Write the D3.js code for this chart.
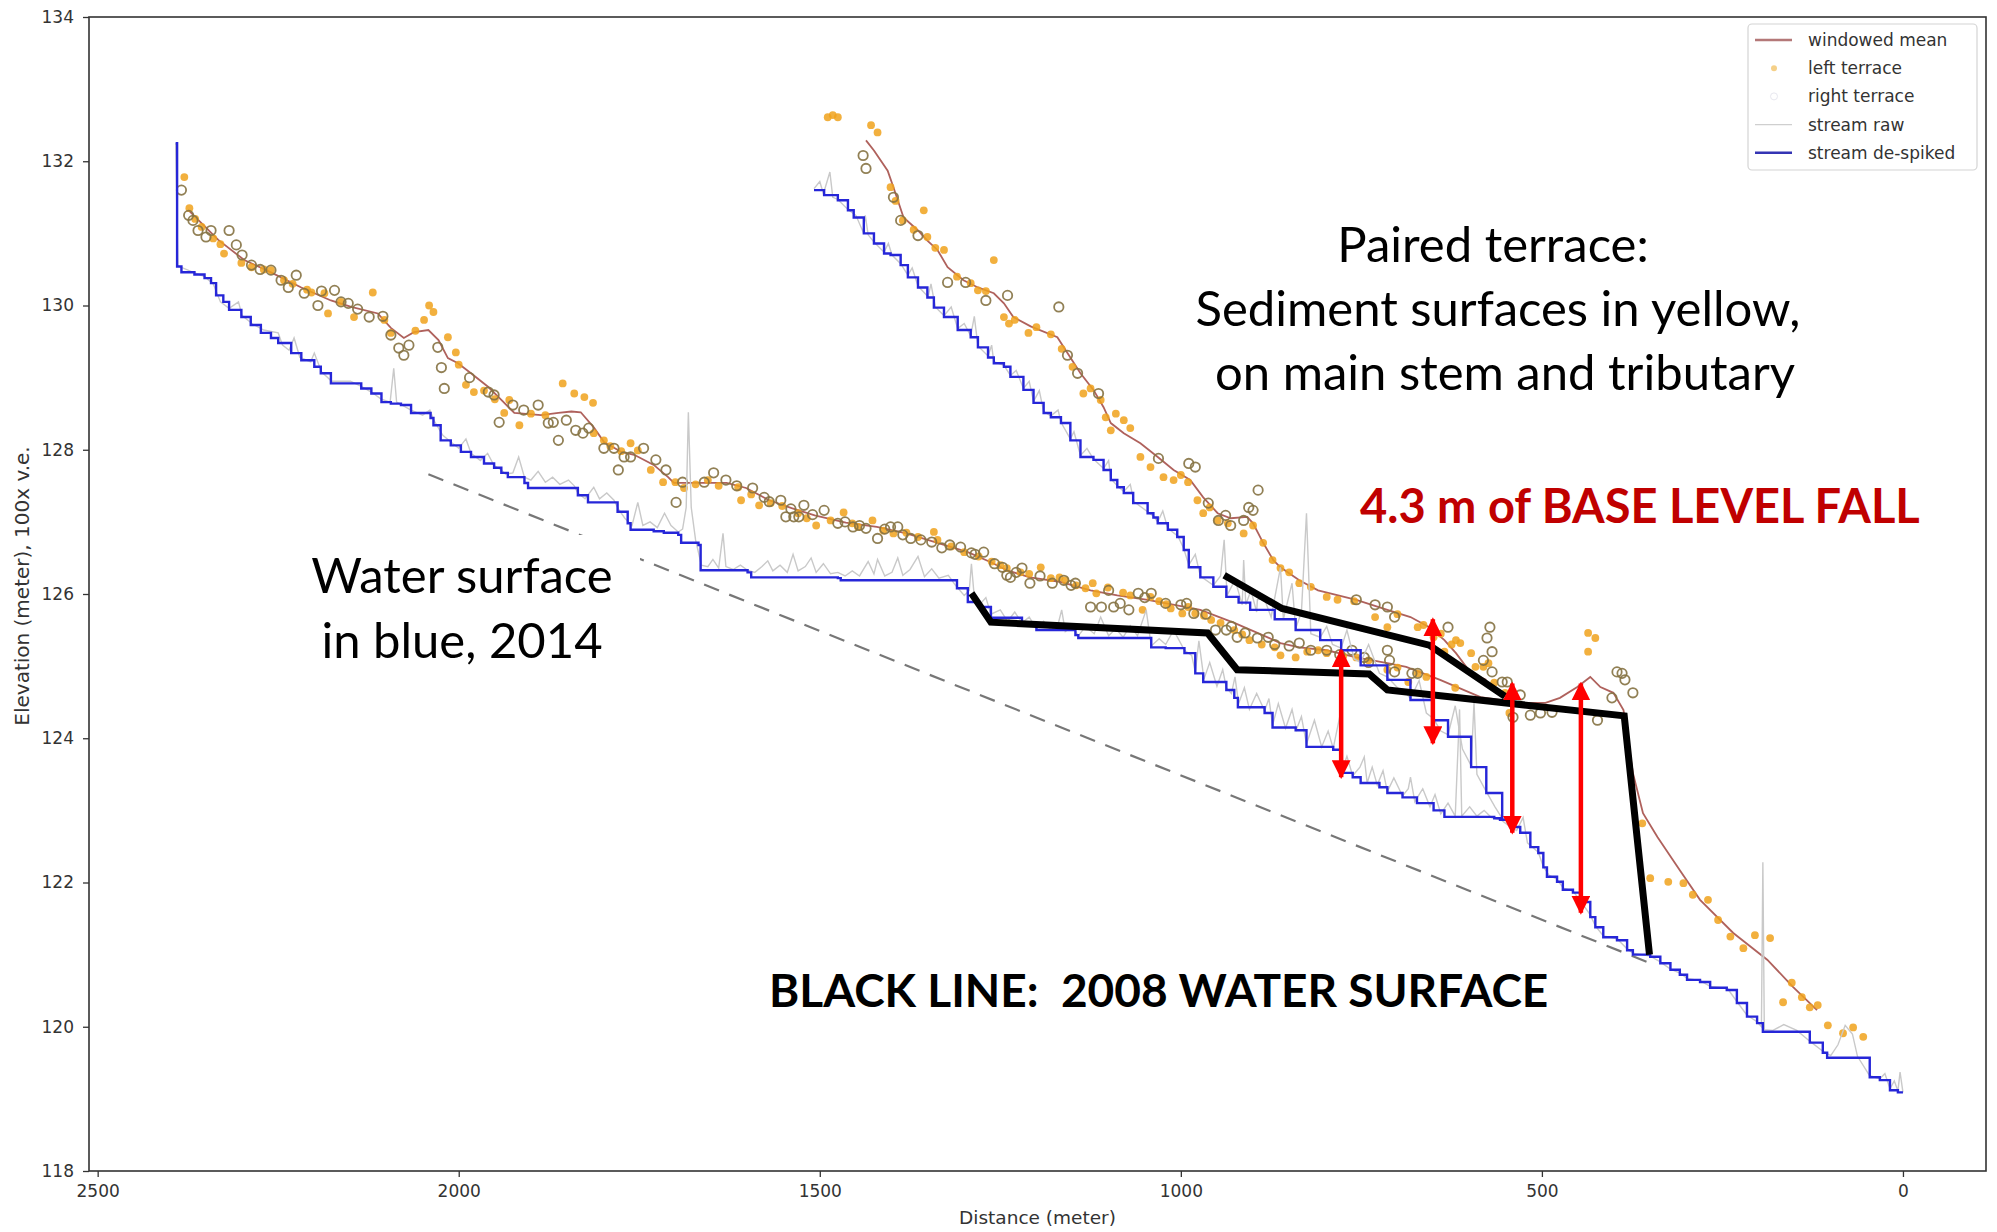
<!DOCTYPE html>
<html>
<head>
<meta charset="utf-8">
<script src="https://cdn.jsdelivr.net/npm/d3@7"></script>
<style>
  body { margin: 0; background: #fff; }
  svg { display: block; }
  .tick text { font-family: "DejaVu Sans", sans-serif; font-size: 17px; fill: #333; }
  .axis-label { font-family: "DejaVu Sans", sans-serif; fill: #333; }
  .legend text { font-family: "DejaVu Sans", sans-serif; font-size: 17px; fill: #333; }
  .note { font-family: Lato, "Open Sans", sans-serif; white-space: pre; }
</style>
</head>
<body>
<script>
// ---- profile data: [distance (m), elevation (m)] ----
var streamMain = [[2392,132.25],[2390,130.54],[2384,130.46],[2366,130.43],[2352,130.38],[2343,130.31],[2336,130.14],[2326,130.05],[2318,129.94],[2301,129.84],[2288,129.73],[2274,129.62],[2260,129.55],[2250,129.48],[2232,129.34],[2218,129.24],[2200,129.15],[2191,129.06],[2177,128.92],[2149,128.92],[2135,128.85],[2121,128.78],[2107,128.66],[2094,128.64],[2080,128.62],[2066,128.51],[2039,128.44],[2035,128.34],[2025,128.13],[2011,128.06],[1997,127.97],[1983,127.90],[1965,127.81],[1951,127.75],[1941,127.68],[1932,127.62],[1923,127.62],[1909,127.54],[1904,127.47],[1840,127.47],[1835,127.37],[1821,127.27],[1789,127.27],[1780,127.14],[1766,126.98],[1762,126.89],[1730,126.87],[1716,126.85],[1696,126.82],[1692,126.71],[1668,126.68],[1665,126.33],[1600,126.30],[1595,126.23],[1475,126.22],[1471,126.19],[1321,126.19],[1310,126.08],[1295,125.89],[1279,125.82],[1263,125.67],[1220,125.57],[1200,125.50],[1146,125.43],[1142,125.39],[1046,125.39],[1041,125.26],[1021,125.25],[995,125.18],[980,124.90],[969,124.78],[937,124.67],[926,124.56],[921,124.43],[884,124.35],[873,124.15],[841,124.11],[826,123.88],[789,123.84],[778,123.52],[762,123.46],[751,123.38],[725,123.32],[714,123.24],[693,123.18],[673,123.10],[650,123.00],[635,122.91],[566,122.89],[558,122.87],[544,122.77],[530,122.69],[516,122.49],[505,122.41],[498,122.21],[493,122.08],[479,122.01],[471,121.90],[457,121.86],[447,121.73],[433,121.52],[426,121.38],[415,121.24],[396,121.20],[382,121.06],[374,121.00],[350,120.97],[336,120.88],[322,120.79],[309,120.72],[299,120.65],[281,120.62],[267,120.54],[244,120.51],[230,120.33],[216,120.14],[202,120.05],[194,119.93],[147,119.93],[129,119.78],[111,119.64],[105,119.57],[64,119.57],[46,119.30],[32,119.26],[18,119.12],[7,119.09],[0,119.09]];

var streamTrib = [[1508,131.60],[1494,131.53],[1475,131.46],[1461,131.32],[1453,131.22],[1439,131.00],[1425,130.86],[1411,130.72],[1402,130.70],[1388,130.56],[1378,130.39],[1364,130.25],[1351,130.11],[1342,129.97],[1328,129.84],[1309,129.66],[1291,129.56],[1281,129.42],[1267,129.28],[1259,129.20],[1245,129.15],[1236,129.01],[1218,128.83],[1204,128.65],[1190,128.51],[1180,128.45],[1166,128.37],[1153,128.13],[1139,127.90],[1121,127.86],[1107,127.72],[1097,127.58],[1088,127.48],[1079,127.40],[1066,127.26],[1046,127.12],[1038,127.06],[1032,126.98],[1018,126.89],[1005,126.79],[996,126.61],[989,126.37],[973,126.23],[955,126.10],[937,125.96],[920,125.88],[904,125.78],[870,125.65],[841,125.50],[807,125.36],[778,125.22],[751,125.01],[714,124.81],[682,124.53],[650,124.25],[630,124.02],[598,123.60],[577,123.24],[555,122.87]];

var rawMain = [[2392,132.25],[2389,130.55],[2370,130.47],[2352,130.40],[2340,130.30],[2330,130.05],[2318,129.96],[2305,130.05],[2300,129.86],[2285,129.74],[2270,129.66],[2250,129.62],[2244,129.45],[2235,129.38],[2228,129.55],[2220,129.28],[2205,129.22],[2200,129.34],[2190,129.08],[2176,128.95],[2150,128.95],[2135,128.88],[2121,128.80],[2107,128.70],[2095,128.66],[2090,129.13],[2086,128.66],[2066,128.55],[2050,128.48],[2040,128.55],[2034,128.40],[2022,128.20],[2010,128.10],[2000,128.02],[1990,128.15],[1983,127.95],[1970,127.85],[1960,127.95],[1951,127.78],[1941,127.72],[1935,127.66],[1925,127.68],[1917,127.90],[1909,127.62],[1900,127.58],[1890,127.70],[1880,127.55],[1870,127.62],[1860,127.52],[1848,127.58],[1840,127.50],[1835,127.40],[1825,127.32],[1813,127.48],[1805,127.32],[1795,127.40],[1785,127.30],[1779,127.18],[1770,127.05],[1760,126.95],[1752,127.27],[1745,126.95],[1735,127.00],[1725,126.92],[1715,127.12],[1706,126.95],[1696,126.86],[1690,126.90],[1685,127.20],[1682,128.52],[1678,127.20],[1672,126.75],[1664,126.40],[1655,126.38],[1648,126.48],[1640,126.36],[1634,126.84],[1630,126.38],[1620,126.34],[1610,126.40],[1600,126.33],[1590,126.30],[1580,126.38],[1572,126.46],[1565,126.32],[1555,126.40],[1545,126.30],[1537,126.55],[1530,126.32],[1520,126.38],[1512,126.50],[1505,126.30],[1495,126.42],[1485,126.28],[1475,126.30],[1465,126.25],[1455,126.32],[1445,126.25],[1433,126.45],[1425,126.28],[1420,126.48],[1410,126.25],[1400,126.30],[1392,126.50],[1385,126.26],[1375,126.34],[1364,126.52],[1355,126.24],[1345,126.35],[1335,126.22],[1322,126.26],[1312,126.12],[1300,125.98],[1293,126.05],[1290,126.42],[1286,125.95],[1278,125.86],[1270,125.95],[1263,125.72],[1250,125.78],[1240,125.62],[1230,125.75],[1220,125.60],[1210,125.68],[1200,125.52],[1190,125.62],[1180,125.50],[1170,125.58],[1165,125.78],[1160,125.48],[1150,125.55],[1142,125.42],[1132,125.55],[1120,125.45],[1111,125.68],[1100,125.42],[1090,125.52],[1080,125.40],[1070,125.56],[1060,125.42],[1048,125.78],[1041,125.28],[1030,125.38],[1021,125.30],[1010,125.50],[995,125.22],[985,125.15],[980,124.92],[975,125.35],[968,124.82],[960,125.05],[950,124.72],[942,124.95],[937,124.70],[930,124.62],[925,124.85],[920,124.48],[912,124.70],[905,124.40],[895,124.62],[884,124.38],[878,124.55],[873,124.18],[865,124.48],[855,124.14],[846,124.40],[840,124.12],[833,124.30],[826,123.92],[815,124.25],[805,123.88],[796,124.10],[789,123.86],[780,124.30],[777,123.55],[770,123.75],[762,123.48],[752,123.60],[746,123.74],[742,123.38],[735,123.60],[728,123.35],[720,123.55],[714,123.26],[705,123.45],[693,123.20],[685,123.30],[682,123.46],[676,123.12],[665,123.30],[655,123.05],[648,123.22],[640,122.95],[630,123.10],[620,122.92],[614,124.40],[611,122.92],[600,123.05],[590,122.92],[580,123.00],[570,122.90],[557,122.87],[545,122.78],[535,122.72],[526,122.90],[520,122.55],[505,122.42],[498,122.22],[490,122.10],[480,122.05],[470,121.92],[457,121.88],[447,121.75],[433,121.55],[426,121.40],[415,121.26],[396,121.22],[382,121.08],[374,121.02],[350,120.98],[336,120.90],[322,120.80],[308,120.74],[299,120.67],[281,120.64],[267,120.56],[243,120.53],[230,120.35],[216,120.16],[202,120.07],[196,120.00],[194,122.28],[192,119.96],[180,119.95],[165,120.03],[147,119.95],[129,119.80],[111,119.66],[100,119.60],[90,119.75],[80,120.02],[70,119.90],[63,119.59],[46,119.32],[32,119.28],[25,119.35],[18,119.14],[12,119.25],[7,119.11],[4,119.37],[0,119.09]];

var rawTrib = [[1508,131.62],[1500,131.72],[1495,131.55],[1486,131.85],[1482,131.50],[1475,131.47],[1461,131.33],[1450,131.25],[1440,131.02],[1437,131.25],[1433,130.98],[1425,130.88],[1411,130.74],[1405,130.86],[1400,130.70],[1388,130.58],[1378,130.42],[1372,130.52],[1364,130.27],[1350,130.12],[1346,130.30],[1340,129.98],[1328,129.86],[1318,129.98],[1309,129.68],[1300,129.75],[1291,129.58],[1286,129.85],[1281,129.44],[1267,129.30],[1262,129.45],[1259,129.22],[1245,129.17],[1236,129.03],[1228,129.10],[1218,128.85],[1210,128.95],[1204,128.67],[1196,128.82],[1190,128.53],[1180,128.47],[1170,128.55],[1166,128.38],[1153,128.15],[1148,128.25],[1139,127.92],[1130,128.02],[1121,127.87],[1107,127.74],[1100,127.85],[1097,127.60],[1088,127.50],[1079,127.42],[1070,127.52],[1065,127.28],[1046,127.14],[1038,127.08],[1032,127.00],[1025,127.15],[1018,126.91],[1004,126.80],[996,126.63],[989,126.40],[980,126.55],[973,126.25],[955,126.12],[945,126.25],[940,126.75],[936,125.98],[925,126.20],[915,125.85],[913,126.47],[910,125.85],[903,126.05],[895,125.75],[894,125.92],[885,125.95],[875,125.68],[862,126.37],[858,125.65],[846,126.15],[841,125.52],[833,125.75],[826,127.12],[820,125.45],[807,125.40],[798,125.55],[790,125.30],[778,125.25],[770,125.50],[760,125.10],[751,125.05],[740,125.30],[725,124.90],[714,124.85],[700,124.70],[690,124.65],[682,124.55],[670,124.80],[660,124.35],[650,124.27],[640,124.10],[630,124.05],[620,124.45],[610,123.85],[598,123.62],[594,124.50],[590,123.50],[577,123.26],[565,123.05],[555,122.89]];

var meanMain = [[2374,131.32],[2333,130.91],[2297,130.63],[2260,130.46],[2218,130.25],[2177,130.07],[2149,129.98],[2112,129.89],[2094,129.69],[2076,129.55],[2062,129.63],[2042,129.66],[2028,129.52],[2015,129.27],[2001,129.20],[1983,129.06],[1959,128.87],[1941,128.69],[1923,128.51],[1886,128.48],[1862,128.51],[1844,128.53],[1831,128.52],[1813,128.31],[1799,128.11],[1775,127.97],[1757,127.93],[1730,127.79],[1710,127.62],[1702,127.54],[1660,127.54],[1629,127.54],[1602,127.47],[1570,127.30],[1539,127.19],[1507,127.09],[1464,126.99],[1421,126.93],[1380,126.84],[1337,126.71],[1295,126.58],[1263,126.44],[1241,126.33],[1209,126.23],[1168,126.17],[1125,126.05],[1088,125.98],[1046,125.92],[1009,125.85],[973,125.78],[926,125.60],[894,125.46],[862,125.32],[836,125.26],[798,125.22],[757,125.12],[714,125.04],[688,124.99],[641,124.81],[585,124.57],[530,124.49],[495,124.49],[475,124.56],[451,124.71],[433,124.85],[419,124.71],[401,124.63],[387,124.39],[374,123.52],[360,122.96],[340,122.63],[309,122.17],[281,121.76],[235,121.30],[188,120.93],[152,120.55],[119,120.23]];

var meanTrib = [[1436,132.29],[1425,132.15],[1406,131.87],[1398,131.64],[1384,131.22],[1364,131.04],[1351,130.90],[1337,130.77],[1323,130.53],[1301,130.35],[1281,130.25],[1259,130.17],[1245,130.03],[1232,129.84],[1208,129.71],[1171,129.56],[1157,129.34],[1139,129.06],[1121,128.83],[1107,128.59],[1097,128.37],[1079,128.23],[1056,128.09],[1032,127.90],[1010,127.72],[987,127.58],[969,127.34],[949,127.12],[931,127.05],[908,127.07],[900,126.98],[886,126.71],[872,126.47],[862,126.37],[836,126.19],[810,126.05],[757,125.92],[714,125.78],[682,125.68],[656,125.54],[635,125.36],[619,125.18],[598,124.90],[577,124.81]];

var leftTerrace = [[2380,131.78],[2373,131.35],[2365,131.20],[2356,131.09],[2340,130.93],[2330,130.85],[2325,130.72],[2301,130.59],[2287,130.53],[2270,130.50],[2260,130.49],[2242,130.35],[2230,130.30],[2210,130.22],[2204,130.18],[2186,130.17],[2181,129.89],[2163,130.05],[2145,129.84],[2119,130.18],[2103,129.80],[2094,129.62],[2060,129.65],[2048,129.80],[2041,130.00],[2035,129.91],[2015,129.56],[2004,129.35],[2000,129.18],[1990,128.90],[1979,128.80],[1965,128.82],[1950,128.70],[1937,128.51],[1930,128.69],[1916,128.34],[1900,128.50],[1880,128.48],[1856,128.92],[1840,128.78],[1826,128.73],[1814,128.65],[1813,128.23],[1799,128.13],[1790,128.05],[1775,127.98],[1762,128.09],[1752,127.99],[1734,127.72],[1717,127.55],[1700,127.55],[1688,127.47],[1672,127.52],[1655,127.58],[1640,127.50],[1613,127.48],[1609,127.30],[1595,127.38],[1584,127.23],[1568,127.26],[1552,127.22],[1530,127.12],[1518,127.05],[1505,126.95],[1485,127.02],[1467,127.13],[1455,126.98],[1447,126.93],[1427,127.02],[1412,126.88],[1398,126.84],[1380,126.85],[1364,126.79],[1342,126.86],[1337,126.75],[1318,126.66],[1300,126.58],[1280,126.52],[1262,126.45],[1250,126.40],[1241,126.36],[1222,126.30],[1210,126.28],[1194,126.37],[1180,126.22],[1168,126.23],[1160,126.19],[1145,126.12],[1132,126.08],[1122,126.15],[1117,126.01],[1101,126.09],[1080,126.02],[1070,125.98],[1053,125.78],[1042,125.96],[1030,125.90],[1020,125.86],[1014,125.80],[998,125.73],[990,125.82],[980,125.73],[968,125.70],[958,125.64],[945,125.60],[926,125.50],[915,125.44],[905,125.36],[888,125.30],[870,125.26],[862,125.15],[841,125.12],[825,125.20],[810,125.22],[798,125.18],[775,125.14],[757,125.12],[740,125.08],[714,124.95],[700,124.98],[685,124.78],[672,124.90],[660,124.85],[635,125.20],[620,124.70],[598,125.18],[592,124.99],[581,124.99],[574,125.04],[566,124.77],[551,124.63],[545,124.35],[436,125.46],[426,125.39],[436,125.20],[361,122.82],[350,122.06],[325,122.01],[304,121.99],[291,121.83],[270,121.76],[256,121.48],[239,121.25],[221,121.09],[205,121.27],[184,121.23],[154,120.61],[166,120.34],[140,120.41],[129,120.27],[118,120.30],[104,120.02],[83,119.91],[69,119.99],[55,119.86],
  [1489,132.61],[1482,132.64],[1475,132.61],[1429,132.50],[1420,132.40],[1402,131.64],[1395,131.45],[1385,131.18],[1370,131.05],[1356,131.32],[1351,130.95],[1340,130.80],[1328,130.77],[1310,130.40],[1291,130.31],[1281,130.21],[1270,130.20],[1259,130.63],[1245,129.84],[1238,129.75],[1230,129.80],[1211,129.62],[1200,129.70],[1180,129.60],[1165,129.40],[1150,129.15],[1135,128.78],[1125,128.85],[1111,128.69],[1104,128.45],[1090,128.50],[1079,128.41],[1097,128.27],[1070,128.30],[1056,127.90],[1042,127.76],[1024,127.62],[1010,127.58],[1000,127.65],[990,127.55],[977,127.30],[969,127.12],[960,127.20],[949,127.02],[935,126.98],[913,126.84],[900,126.95],[886,126.71],[873,126.47],[862,126.36],[850,126.30],[836,126.15],[820,126.10],[798,125.96],[783,125.92],[760,125.90],[731,125.68],[714,125.54],[700,125.72],[672,125.54],[664,125.57],[650,125.40],[640,125.45],[625,125.30],[619,125.36],[613,125.32]];

var rightTerrace = [[2384,131.60],[2374,131.25],[2368,131.18],[2361,131.04],[2350,130.95],[2343,131.04],[2318,131.04],[2308,130.84],[2300,130.70],[2287,130.56],[2275,130.50],[2260,130.49],[2246,130.35],[2236,130.25],[2225,130.42],[2214,130.17],[2195,130.00],[2190,130.20],[2172,130.21],[2163,130.05],[2153,130.03],[2140,129.95],[2124,129.84],[2105,129.85],[2094,129.59],[2083,129.41],[2076,129.31],[2069,129.45],[2029,129.42],[2024,129.14],[2020,128.85],[1985,129.00],[1959,128.80],[1951,128.76],[1944,128.38],[1925,128.62],[1910,128.55],[1890,128.62],[1876,128.37],[1869,128.38],[1851,128.41],[1838,128.27],[1828,128.23],[1820,128.30],[1862,128.13],[1799,128.02],[1785,128.02],[1771,127.90],[1762,127.90],[1744,128.02],[1727,127.86],[1713,127.72],[1779,127.72],[1699,127.27],[1690,127.55],[1660,127.55],[1647,127.68],[1630,127.58],[1615,127.50],[1593,127.47],[1577,127.34],[1570,127.28],[1554,127.30],[1547,127.07],[1540,127.18],[1536,127.07],[1529,127.07],[1522,127.23],[1510,127.10],[1494,127.16],[1475,126.98],[1465,127.00],[1454,126.93],[1445,126.95],[1436,126.91],[1420,126.77],[1410,126.90],[1402,126.93],[1392,126.93],[1385,126.82],[1374,126.77],[1360,126.75],[1345,126.72],[1331,126.64],[1320,126.68],[1305,126.65],[1290,126.57],[1285,126.55],[1273,126.58],[1258,126.42],[1247,126.37],[1241,126.26],[1236,126.23],[1228,126.30],[1220,126.36],[1209,126.15],[1195,126.25],[1178,126.15],[1162,126.19],[1152,126.12],[1146,126.15],[1125,125.82],[1110,125.82],[1100,126.05],[1093,125.82],[1084,125.87],[1072,125.78],[1059,126.01],[1050,125.95],[1041,126.01],[1021,125.87],[1000,125.85],[992,125.87],[982,125.73],[965,125.72],[952,125.50],[937,125.50],[930,125.55],[922,125.40],[911,125.46],[894,125.39],[879,125.40],[870,125.30],[850,125.28],[836,125.32],[820,125.22],[798,125.22],[780,125.16],[763,125.22],[746,125.12],[740,125.05],[714,125.22],[711,125.08],[704,124.92],[680,124.90],[672,124.90],[630,125.54],[572,125.54],[576,125.39],[569,125.20],[581,125.08],[569,124.92],[555,124.78],[548,124.78],[530,124.60],[540,124.29],[516,124.32],[502,124.35],[486,124.36],[423,124.25],[403,124.56],[396,124.92],[389,124.90],[385,124.81],[374,124.63],
  [1440,132.08],[1436,131.90],[1398,131.50],[1388,131.18],[1364,130.97],[1323,130.32],[1298,130.32],[1270,130.07],[1240,130.14],[1169,129.98],[1157,129.31],[1143,129.06],[1114,128.78],[1031,127.88],[989,127.81],[980,127.76],[893,127.44],[906,127.20],[900,127.16],[962,127.26],[938,127.09],[913,127.02],[948,127.02],[931,126.95],[757,125.92],[731,125.85],[714,125.82],[704,125.68]];

// hand-drawn 2008 water surface, regional base line and fall arrows [distance, top, bottom]
var line2008a = [[1290,126.01],[1263,125.61],[963,125.46],[922,124.95],[739,124.89],[714,124.67],[386,124.31],[351,121.00]];
var line2008b = [[940,126.26],[860,125.80],[656,125.29],[551,124.58]];
var baseLine = [[2042,127.66],[347,120.87]];
var fallArrows = [[778,125.22,123.46],[651,125.65,123.93],[541,124.76,122.69],[446,124.76,121.58]];

var xTicks = [2500, 2000, 1500, 1000, 500, 0];
var yTicks = [118, 120, 122, 124, 126, 128, 130, 132, 134];
var legendItems = ["windowed mean", "left terrace", "right terrace", "stream raw", "stream de-spiked"];

var outerWidth = 1997,
    outerHeight = 1232,
    plotLeft = 89, plotRight = 1986, plotTop = 17, plotBottom = 1171;

var svg = d3.select("body").append("svg")
    .attr("width", outerWidth)
    .attr("height", outerHeight);

svg.append("rect").attr("width", outerWidth).attr("height", outerHeight).attr("fill", "#fff");

var xScale = d3.scaleLinear().domain([2512, -115]).range([plotLeft, plotRight]);
var yScale = d3.scaleLinear().domain([118, 134]).range([plotBottom, plotTop]);

var line = d3.line()
    .x(function(d) { return xScale(d[0]) })
    .y(function(d) { return yScale(d[1]) });
var stepLine = d3.line()
    .x(function(d) { return xScale(d[0]) })
    .y(function(d) { return yScale(d[1]) })
    .curve(d3.curveStepAfter);

//dashed base level line, partly hidden by the text box
svg.append("path")
    .datum(baseLine)
    .attr("d", line)
    .attr("fill", "none")
    .attr("stroke", "#777")
    .attr("stroke-width", 2.2)
    .attr("stroke-dasharray", "16,11");

svg.append("rect")
    .attr("x", 290).attr("y", 535)
    .attr("width", 350).attr("height", 145)
    .attr("fill", "#fff");

var plot = svg.append("g").attr("id", "plot");

//windowed mean
[meanMain, meanTrib].forEach(function(s) {
    plot.append("path")
        .datum(s)
        .attr("d", line)
        .attr("fill", "none")
        .attr("stroke", "#a6504a")
        .attr("stroke-opacity", 0.9)
        .attr("stroke-width", 1.8);
});

//terrace points
plot.append("g").selectAll("circle")
    .data(leftTerrace)
    .join("circle")
    .attr("cx", function(d) { return xScale(d[0]) })
    .attr("cy", function(d) { return yScale(d[1]) })
    .attr("r", 3.9)
    .attr("fill", "#f0a21c")
    .attr("fill-opacity", 0.85);

plot.append("g").selectAll("circle")
    .data(rightTerrace)
    .join("circle")
    .attr("cx", function(d) { return xScale(d[0]) })
    .attr("cy", function(d) { return yScale(d[1]) })
    .attr("r", 4.7)
    .attr("fill", "none")
    .attr("stroke", "#857242")
    .attr("stroke-opacity", 0.9)
    .attr("stroke-width", 1.8);

//raw stream
[rawMain, rawTrib].forEach(function(s) {
    plot.append("path")
        .datum(s)
        .attr("d", line)
        .attr("fill", "none")
        .attr("stroke", "#c9c9c9")
        .attr("stroke-width", 1.4);
});

//de-spiked stream
[streamMain, streamTrib].forEach(function(s) {
    plot.append("path")
        .datum(s)
        .attr("d", stepLine)
        .attr("fill", "none")
        .attr("stroke", "#2626d8")
        .attr("stroke-width", 2.4);
});

//axes
var xAxis = d3.axisBottom(xScale).tickValues(xTicks).tickSize(6).tickPadding(8).tickFormat(d3.format("d"));
var yAxis = d3.axisLeft(yScale).tickValues(yTicks).tickSize(6).tickPadding(9).tickFormat(d3.format("d"));

var xg = svg.append("g")
    .attr("transform", "translate(0," + plotBottom + ")")
    .call(xAxis);
var yg = svg.append("g")
    .attr("transform", "translate(" + plotLeft + ",0)")
    .call(yAxis);
[xg, yg].forEach(function(g) {
    g.select(".domain").remove();
    g.selectAll(".tick line").attr("stroke", "#333").attr("stroke-width", 1.3);
});

svg.append("rect")
    .attr("x", plotLeft).attr("y", plotTop)
    .attr("width", plotRight - plotLeft).attr("height", plotBottom - plotTop)
    .attr("fill", "none")
    .attr("stroke", "#333")
    .attr("stroke-width", 1.6);

svg.append("text")
    .attr("class", "axis-label")
    .attr("x", (plotLeft + plotRight) / 2)
    .attr("y", 1224)
    .attr("font-size", 18.5)
    .attr("text-anchor", "middle")
    .text("Distance (meter)");

svg.append("text")
    .attr("class", "axis-label")
    .attr("transform", "translate(29," + ((plotTop + plotBottom) / 2 - 8) + ") rotate(-90)")
    .attr("font-size", 20)
    .attr("text-anchor", "middle")
    .text("Elevation (meter), 100x v.e.");

//legend
var legend = svg.append("g").attr("class", "legend");
legend.append("rect")
    .attr("x", 1748).attr("y", 24)
    .attr("width", 229).attr("height", 146)
    .attr("rx", 4)
    .attr("fill", "#fff")
    .attr("stroke", "#d4d4d4")
    .attr("stroke-width", 1.2);

legendItems.forEach(function(name, i) {
    var y = 40 + i * 28.2;
    if (i == 0 || i == 3 || i == 4) {
        legend.append("line")
            .attr("x1", 1755).attr("x2", 1792)
            .attr("y1", y).attr("y2", y)
            .attr("stroke", i == 0 ? "#b47878" : (i == 3 ? "#cfcfcf" : "#3434b4"))
            .attr("stroke-width", i == 3 ? 1.4 : 2.6);
    } else if (i == 1) {
        legend.append("circle")
            .attr("cx", 1774).attr("cy", y).attr("r", 3)
            .attr("fill", "#f3c46a").attr("fill-opacity", 0.8);
    } else {
        legend.append("circle")
            .attr("cx", 1774).attr("cy", y).attr("r", 3.5)
            .attr("fill", "none").attr("stroke", "#e8e8f0").attr("stroke-width", 1);
    }
    legend.append("text")
        .attr("x", 1808)
        .attr("y", y + 6)
        .text(name);
});

//2008 water surface lines
[line2008a, line2008b].forEach(function(s) {
    svg.append("path")
        .datum(s)
        .attr("d", line)
        .attr("fill", "none")
        .attr("stroke", "#000")
        .attr("stroke-width", 7)
        .attr("stroke-linejoin", "miter");
});

//red double arrows
var defs = svg.append("defs");
defs.append("marker")
    .attr("id", "head")
    .attr("viewBox", "0 0 10 10")
    .attr("refX", 9).attr("refY", 5)
    .attr("markerWidth", 4.2).attr("markerHeight", 4.2)
    .attr("markerUnits", "strokeWidth")
    .attr("orient", "auto-start-reverse")
    .append("path")
    .attr("d", "M0,0 L10,5 L0,10 z")
    .attr("fill", "#ff0000");

svg.append("g").selectAll("line")
    .data(fallArrows)
    .join("line")
    .attr("x1", function(d) { return xScale(d[0]) })
    .attr("x2", function(d) { return xScale(d[0]) })
    .attr("y1", function(d) { return yScale(d[1]) })
    .attr("y2", function(d) { return yScale(d[2]) })
    .attr("stroke", "#ff0000")
    .attr("stroke-width", 4.5)
    .attr("marker-start", "url(#head)")
    .attr("marker-end", "url(#head)");

//annotation text
function note(txt, x, y, size, weight, color, anchor) {
    svg.append("text")
        .attr("class", "note")
        .attr("x", x).attr("y", y)
        .attr("font-size", size)
        .attr("font-weight", weight)
        .attr("fill", color)
        .attr("text-anchor", anchor)
        .text(txt);
}
note("Paired terrace:", 1493, 262, 49, 400, "#000", "middle");
note("Sediment surfaces in yellow,", 1498, 326, 49, 400, "#000", "middle");
note("on main stem and tributary", 1505, 390, 49, 400, "#000", "middle");
note("4.3 m of BASE LEVEL FALL", 1360, 523, 47, 700, "#c00000", "start");
note("Water surface", 462, 593, 49, 400, "#000", "middle");
note("in blue, 2014", 462, 658, 49, 400, "#000", "middle");
note("BLACK LINE:  2008 WATER SURFACE", 769, 1007, 46, 700, "#000", "start");
</script>
</body>
</html>
